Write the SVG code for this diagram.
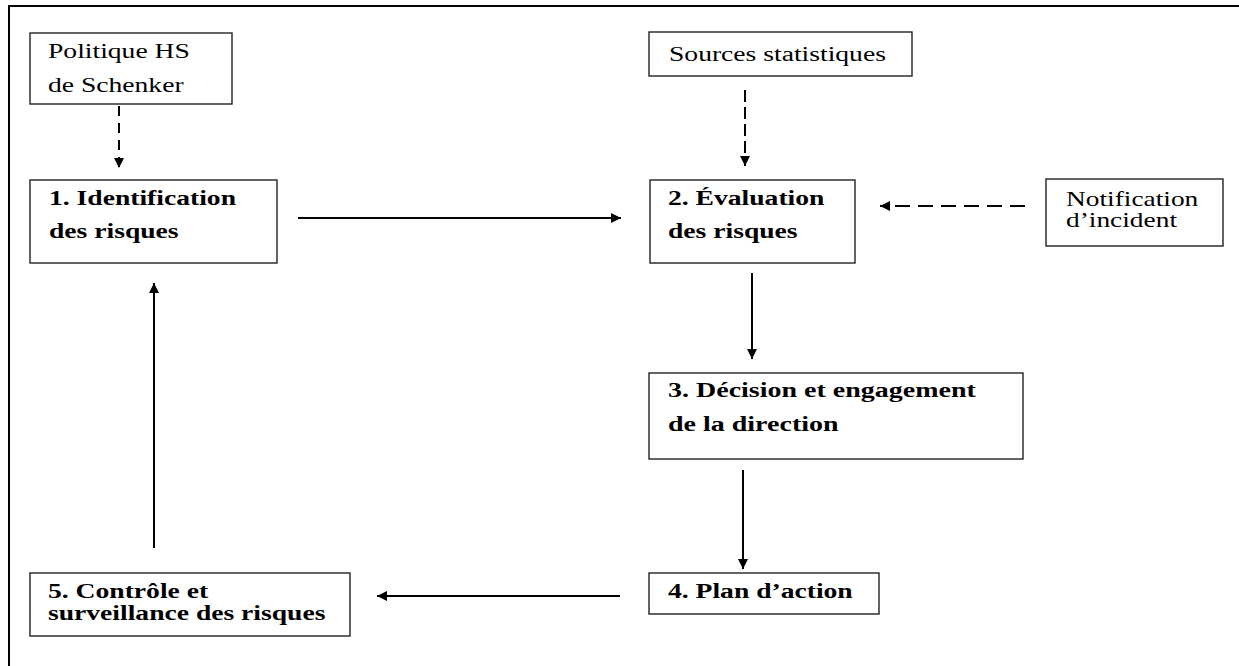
<svg xmlns="http://www.w3.org/2000/svg" width="1239" height="666" viewBox="0 0 1239 666">
<defs>
<style>
.box{fill:#fff;stroke:#222;stroke-width:1.4}
.t{font-family:"Liberation Serif","Times New Roman",serif;font-size:20px;fill:#000}
.b{font-weight:bold}
.ln{stroke:#000;stroke-width:2;fill:none}
.dash1{stroke-dasharray:10 7}
.dash2{stroke-dasharray:12 5}
.hdash{stroke-dasharray:15 8}
</style>
<marker id="ah" viewBox="0 0 10 10" refX="10" refY="5" markerWidth="10" markerHeight="10" markerUnits="userSpaceOnUse" orient="auto">
<path d="M0,0 L10,5 L0,10 z" fill="#000"/>
</marker>
</defs>
<rect width="1239" height="666" fill="#fff"/>
<path d="M9,666 V6 H1239" stroke="#000" stroke-width="2" fill="none"/>

<g id="politique">
<rect class="box" x="30" y="33" width="202" height="71"/>
<text class="t" transform="translate(48,58) scale(1.38,1)">Politique HS</text>
<text class="t" transform="translate(48,92) scale(1.38,1)">de Schenker</text>
</g>
<g id="sources">
<rect class="box" x="649" y="32" width="263" height="44"/>
<text class="t" transform="translate(669,61) scale(1.38,1)">Sources statistiques</text>
</g>
<g id="notification">
<rect class="box" x="1046" y="179" width="177" height="67"/>
<text class="t" transform="translate(1066,206) scale(1.37,1)">Notification</text>
<text class="t" transform="translate(1066,227) scale(1.37,1)">d’incident</text>
</g>
<g id="n1">
<rect class="box" x="30" y="180" width="247" height="83"/>
<text class="t b" transform="translate(49,205) scale(1.38,1)">1. Identification</text>
<text class="t b" transform="translate(49,238) scale(1.38,1)">des risques</text>
</g>
<g id="n2">
<rect class="box" x="650" y="180" width="205" height="83"/>
<text class="t b" transform="translate(668,205) scale(1.38,1)">2. Évaluation</text>
<text class="t b" transform="translate(668,238) scale(1.38,1)">des risques</text>
</g>
<g id="n3">
<rect class="box" x="649" y="373" width="374" height="86"/>
<text class="t b" transform="translate(668,397) scale(1.4,1)">3. Décision et engagement</text>
<text class="t b" transform="translate(668,431) scale(1.4,1)">de la direction</text>
</g>
<g id="n4">
<rect class="box" x="649" y="573" width="230" height="41"/>
<text class="t b" transform="translate(668,598) scale(1.38,1)">4. Plan d’action</text>
</g>
<g id="n5">
<rect class="box" x="30" y="573" width="320" height="63"/>
<text class="t b" transform="translate(48,598) scale(1.38,1)">5. Contrôle et</text>
<text class="t b" transform="translate(48,620) scale(1.38,1)">surveillance des risques</text>
</g>

<g id="connectors">
<line class="ln dash1" x1="119" y1="106" x2="119" y2="168" marker-end="url(#ah)"/>
<line class="ln dash2" x1="745" y1="90" x2="745" y2="166" marker-end="url(#ah)"/>
<line class="ln hdash" x1="1025" y1="206" x2="880" y2="206" marker-end="url(#ah)"/>
<line class="ln" x1="298" y1="218" x2="621" y2="218" marker-end="url(#ah)"/>
<line class="ln" x1="752" y1="273" x2="752" y2="359" marker-end="url(#ah)"/>
<line class="ln" x1="743" y1="470" x2="743" y2="569" marker-end="url(#ah)"/>
<line class="ln" x1="620" y1="596" x2="377" y2="596" marker-end="url(#ah)"/>
<line class="ln" x1="154" y1="548" x2="154" y2="283" marker-end="url(#ah)"/>
</g>
</svg>
